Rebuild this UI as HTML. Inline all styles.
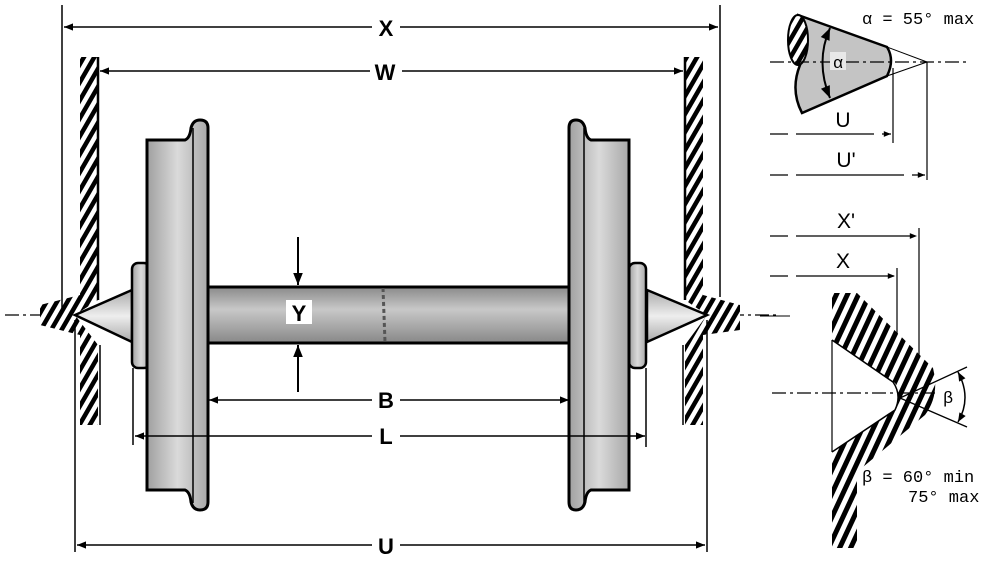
<!DOCTYPE html>
<html><head><meta charset="utf-8"><style>
html,body{margin:0;padding:0;background:#fff;}
svg{display:block;}
.lb{font-family:"Liberation Sans",sans-serif;font-weight:bold;font-size:22px;fill:#000;text-anchor:middle;}
.mono{font-family:"Liberation Mono",monospace;font-size:17px;fill:#000;}
</style></head><body>
<svg width="1002" height="564" viewBox="0 0 1002 564" xmlns="http://www.w3.org/2000/svg">
<defs>
<pattern id="h" width="9" height="9" patternUnits="userSpaceOnUse" patternTransform="rotate(30)">
<rect width="9" height="9" fill="#fff"/><rect width="4.5" height="9" fill="#000"/></pattern>
<pattern id="h2" width="10" height="10" patternUnits="userSpaceOnUse" patternTransform="rotate(25)">
<rect width="10" height="10" fill="#fff"/><rect width="5" height="10" fill="#000"/></pattern>
<linearGradient id="wg" x1="0" x2="1"><stop offset="0" stop-color="#a0a0a0"/><stop offset=".5" stop-color="#dadada"/><stop offset="1" stop-color="#a8a8a8"/></linearGradient>
<linearGradient id="ag" x1="0" y1="0" x2="0" y2="1"><stop offset="0" stop-color="#8a8a8a"/><stop offset=".4" stop-color="#c8c8c8"/><stop offset="1" stop-color="#888"/></linearGradient>
<linearGradient id="cg" x1="0" y1="0" x2="0" y2="1"><stop offset="0" stop-color="#aaa"/><stop offset=".5" stop-color="#eee"/><stop offset="1" stop-color="#aaa"/></linearGradient>
<marker id="a" viewBox="0 0 10 10" refX="10" refY="5" markerWidth="8" markerHeight="6" orient="auto-start-reverse"><path d="M0,1 L10,5 L0,9 z" fill="#000"/></marker>
</defs>

<line x1="5" y1="315" x2="780" y2="315" stroke="#000" stroke-width="1.3" stroke-dasharray="14,4,3,4"/>

<path d="M80,57 H98 V300 L75,315 L98,345 V425 H80 V335 L40,325 V305 L80,295 Z" fill="url(#h)"/>
<line x1="98" y1="57" x2="98" y2="300" stroke="#000" stroke-width="2.5"/>
<line x1="100" y1="345" x2="100" y2="425" stroke="#000" stroke-width="1.5"/>
<path d="M685,57 H703 V295 L740,305 V330 L703,335 V425 H685 V345 L707,315 L685,300 Z" fill="url(#h)"/>
<line x1="685" y1="57" x2="685" y2="300" stroke="#000" stroke-width="2.5"/>
<line x1="683" y1="345" x2="683" y2="425" stroke="#000" stroke-width="1.5"/>

<rect x="207" y="287" width="366" height="56" fill="url(#ag)" stroke="#000" stroke-width="3"/>
<line x1="383" y1="288" x2="385" y2="342" stroke="#555" stroke-width="3" stroke-dasharray="4,3"/>

<path d="M132,290 L75,315 L132,342 Z" fill="url(#cg)" stroke="#000" stroke-width="2.5"/>
<path d="M647,290 L707,315 L647,342 Z" fill="url(#cg)" stroke="#000" stroke-width="2.5"/>
<rect x="132" y="263" width="18" height="105" rx="6" fill="url(#wg)" stroke="#000" stroke-width="2.5"/>
<rect x="629" y="263" width="17" height="105" rx="6" fill="url(#wg)" stroke="#000" stroke-width="2.5"/>

<path d="M147,140 H185 Q190,138 191,128 Q193,120 200,120 Q208,120 208,128 V502 Q208,510 200,510 Q193,510 191,502 Q190,492 185,490 H147 Z" fill="url(#wg)" stroke="#000" stroke-width="3"/>
<line x1="193" y1="128" x2="193" y2="503" stroke="#000" stroke-width="1.5"/>
<path d="M629,140 H591 Q586,138 585,128 Q583,120 576,120 Q569,120 569,128 V502 Q569,510 576,510 Q583,510 585,502 Q586,492 591,490 H629 Z" fill="url(#wg)" stroke="#000" stroke-width="3"/>
<line x1="584" y1="128" x2="584" y2="503" stroke="#000" stroke-width="1.5"/>

<line x1="298" y1="237" x2="298" y2="285" stroke="#000" stroke-width="2" marker-end="url(#a)"/>
<line x1="298" y1="392" x2="298" y2="345" stroke="#000" stroke-width="2" marker-end="url(#a)"/>
<rect x="286" y="300" width="26" height="24" fill="#fff"/>
<text x="299" y="321" class="lb">Y</text>

<line x1="62" y1="5" x2="62" y2="310" stroke="#000" stroke-width="1.5"/>
<line x1="720" y1="5" x2="720" y2="297" stroke="#000" stroke-width="1.5"/>
<line x1="75" y1="320" x2="75" y2="552" stroke="#000" stroke-width="1.5"/>
<line x1="707" y1="320" x2="707" y2="552" stroke="#000" stroke-width="1.5"/>
<line x1="133" y1="368" x2="133" y2="445" stroke="#000" stroke-width="1.5"/>
<line x1="646" y1="368" x2="646" y2="447" stroke="#000" stroke-width="1.5"/>

<g stroke="#000" stroke-width="1.5" fill="none">
<line x1="372" y1="27" x2="64" y2="27" marker-end="url(#a)"/><line x1="400" y1="27" x2="718" y2="27" marker-end="url(#a)"/>
<line x1="370" y1="71" x2="100" y2="71" marker-end="url(#a)"/><line x1="402" y1="71" x2="683" y2="71" marker-end="url(#a)"/>
<line x1="372" y1="400" x2="209" y2="400" marker-end="url(#a)"/><line x1="400" y1="400" x2="569" y2="400" marker-end="url(#a)"/>
<line x1="372" y1="436" x2="135" y2="436" marker-end="url(#a)"/><line x1="400" y1="436" x2="645" y2="436" marker-end="url(#a)"/>
<line x1="372" y1="545" x2="77" y2="545" marker-end="url(#a)"/><line x1="400" y1="545" x2="705" y2="545" marker-end="url(#a)"/>
</g>
<text x="386" y="36" class="lb">X</text>
<text x="385" y="80" class="lb">W</text>
<text x="386" y="408" class="lb">B</text>
<text x="386" y="444" class="lb">L</text>
<text x="386" y="554" class="lb">U</text>

<path d="M798,15 L887,47 Q895,60 887,76 L802,113 Q790,90 800,65 Q788,40 798,15 Z" fill="#c4c4c4" stroke="#000" stroke-width="2.5"/>
<ellipse cx="798" cy="40" rx="10" ry="25" fill="url(#h)" stroke="#000" stroke-width="2"/>
<line x1="887" y1="47" x2="927" y2="62" stroke="#000" stroke-width="1"/>
<line x1="887" y1="76" x2="927" y2="62" stroke="#000" stroke-width="1"/>
<line x1="770" y1="62" x2="970" y2="62" stroke="#000" stroke-width="1.2" stroke-dasharray="14,4,3,4"/>
<path d="M830,28 Q815,62 830,98" stroke="#000" stroke-width="2" fill="none" marker-start="url(#a)" marker-end="url(#a)"/>
<rect x="830" y="52" width="16" height="18" fill="#e8e8e8"/>
<text x="838" y="68" class="mono" text-anchor="middle" font-size="19">α</text>
<text x="862" y="24" class="mono">α = 55° max</text>
<line x1="893" y1="68" x2="893" y2="143" stroke="#000" stroke-width="1.2"/>
<line x1="927" y1="62" x2="927" y2="180" stroke="#000" stroke-width="1.2"/>
<line x1="770" y1="134" x2="891" y2="134" stroke="#000" stroke-width="1.2" stroke-dasharray="18,8,60,0" marker-end="url(#a)"/>
<line x1="770" y1="175" x2="925" y2="175" stroke="#000" stroke-width="1.2" stroke-dasharray="18,8,90,0" marker-end="url(#a)"/>
<text x="843" y="127" class="lb" style="font-weight:normal;font-size:21px">U</text>
<text x="846" y="167" class="lb" style="font-weight:normal;font-size:21px">U'</text>

<line x1="770" y1="236" x2="917" y2="236" stroke="#000" stroke-width="1.2" stroke-dasharray="18,8,100,0" marker-end="url(#a)"/>
<line x1="770" y1="276" x2="895" y2="276" stroke="#000" stroke-width="1.2" stroke-dasharray="18,8,80,0" marker-end="url(#a)"/>
<text x="846" y="228" class="lb" style="font-weight:normal;font-size:21px">X'</text>
<text x="843" y="268" class="lb" style="font-weight:normal;font-size:21px">X</text>
<line x1="919" y1="228" x2="919" y2="372" stroke="#000" stroke-width="1.2"/>
<line x1="897" y1="268" x2="897" y2="382" stroke="#000" stroke-width="1.2"/>
<line x1="760" y1="316" x2="790" y2="316" stroke="#000" stroke-width="1"/>
<path d="M832,293 H857 L933,368 Q940,395 925,415 L857,472 V548 H832 V452 L895,410 Q902,395 895,383 L832,340 Z" fill="url(#h2)"/>
<line x1="832" y1="340" x2="832" y2="452" stroke="#000" stroke-width="1.2"/>
<path d="M832,340 L893,382 Q902,395 895,410 L832,452" fill="none" stroke="#000" stroke-width="1.5"/>
<line x1="772" y1="393" x2="935" y2="393" stroke="#000" stroke-width="1.2" stroke-dasharray="14,4,3,4"/>
<line x1="900" y1="398" x2="967" y2="367" stroke="#000" stroke-width="1.3"/>
<line x1="900" y1="398" x2="967" y2="427" stroke="#000" stroke-width="1.3"/>
<path d="M958,372 Q972,398 958,422" fill="none" stroke="#000" stroke-width="1.5" marker-start="url(#a)" marker-end="url(#a)"/>
<text x="943" y="403" class="mono" font-size="19">β</text>
<text x="862" y="482" class="mono">β = 60° min</text>
<text x="908" y="502" class="mono">75° max</text>
</svg>
</body></html>
